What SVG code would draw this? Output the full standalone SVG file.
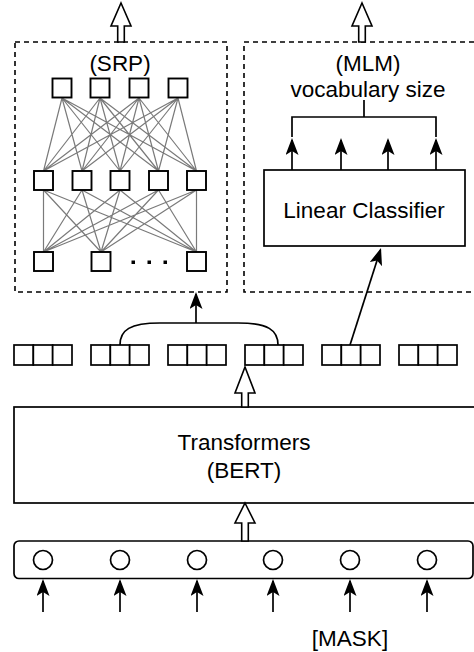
<svg xmlns="http://www.w3.org/2000/svg" width="474" height="652" viewBox="0 0 474 652">
<defs>
<marker id="ah" viewBox="0 0 17 13" refX="15" refY="6.5" markerWidth="17" markerHeight="13" markerUnits="userSpaceOnUse" orient="auto">
<path d="M0,0 L17,6.5 L0,13 L4,6.5 Z" fill="#000"/>
</marker>
</defs>
<style>
.t{font-family:"Liberation Sans",Arial,sans-serif;font-size:22.5px;fill:#000;text-anchor:middle}
.box{fill:#fff;stroke:#000;stroke-width:1.7}
.dash{fill:none;stroke:#000;stroke-width:1.6;stroke-dasharray:5 4}
.sq{fill:#fff;stroke:#000;stroke-width:1.9}
.net{stroke:#7a7a7a;stroke-width:1.2;fill:none}
.ln{stroke:#000;stroke-width:1.7;fill:none}
.arr{stroke:#000;stroke-width:1.7;fill:none;marker-end:url(#ah)}
.hollow{fill:#fff;stroke:#000;stroke-width:1.6}
</style>

<g id="srp">
<rect class="dash" x="15" y="42" width="212" height="250"/>
<text class="t" x="120" y="71">(SRP)</text>
<g class="net">
<path d="M62,98 L43.5,171 M62,98 L82,171 M62,98 L120,171 M62,98 L158.5,171 M62,98 L196.5,171
M100,98 L43.5,171 M100,98 L82,171 M100,98 L120,171 M100,98 L158.5,171 M100,98 L196.5,171
M139,98 L43.5,171 M139,98 L82,171 M139,98 L120,171 M139,98 L158.5,171 M139,98 L196.5,171
M178,98 L43.5,171 M178,98 L82,171 M178,98 L120,171 M178,98 L158.5,171 M178,98 L196.5,171"/>
<path d="M43.5,190 L43.5,252 M43.5,190 L101,252 M43.5,190 L196.5,252
M82,190 L43.5,252 M82,190 L101,252 M82,190 L196.5,252
M120,190 L43.5,252 M120,190 L101,252 M120,190 L196.5,252
M158.5,190 L43.5,252 M158.5,190 L101,252 M158.5,190 L196.5,252
M196.5,190 L43.5,252 M196.5,190 L101,252 M196.5,190 L196.5,252"/>
</g>
<rect class="sq" x="52.5" y="78.5" width="19" height="19"/>
<rect class="sq" x="90.5" y="78.5" width="19" height="19"/>
<rect class="sq" x="129.5" y="78.5" width="19" height="19"/>
<rect class="sq" x="168.5" y="78.5" width="19" height="19"/>
<rect class="sq" x="34" y="171" width="19" height="19"/>
<rect class="sq" x="72.5" y="171" width="19" height="19"/>
<rect class="sq" x="110.5" y="171" width="19" height="19"/>
<rect class="sq" x="149" y="171" width="19" height="19"/>
<rect class="sq" x="187" y="171" width="19" height="19"/>
<rect class="sq" x="34" y="252" width="19" height="19"/>
<rect class="sq" x="91.5" y="252" width="19" height="19"/>
<rect class="sq" x="187" y="252" width="19" height="19"/>
<rect x="131.5" y="260.5" width="3.5" height="3.5" fill="#000"/>
<rect x="147.5" y="260.5" width="3.5" height="3.5" fill="#000"/>
<rect x="163.5" y="260.5" width="3.5" height="3.5" fill="#000"/>
</g>

<g id="mlm">
<rect class="dash" x="244" y="42" width="236" height="250"/>
<text class="t" x="368" y="71">(MLM)</text>
<text class="t" x="368" y="97">vocabulary size</text>
<rect class="box" x="264" y="170" width="201" height="76"/>
<text class="t" x="364" y="218">Linear Classifier</text>
</g>

<g id="tokens">
<g class="box">
<rect x="14" y="345" width="19.33" height="20"/><rect x="33.33" y="345" width="19.33" height="20"/><rect x="52.67" y="345" width="19.33" height="20"/>
<rect x="91" y="345" width="19.33" height="20"/><rect x="110.33" y="345" width="19.33" height="20"/><rect x="129.67" y="345" width="19.33" height="20"/>
<rect x="168" y="345" width="19.33" height="20"/><rect x="187.33" y="345" width="19.33" height="20"/><rect x="206.67" y="345" width="19.33" height="20"/>
<rect x="245" y="345" width="19.33" height="20"/><rect x="264.33" y="345" width="19.33" height="20"/><rect x="283.67" y="345" width="19.33" height="20"/>
<rect x="322" y="345" width="19.33" height="20"/><rect x="341.33" y="345" width="19.33" height="20"/><rect x="360.67" y="345" width="19.33" height="20"/>
<rect x="399" y="345" width="19.33" height="20"/><rect x="418.33" y="345" width="19.33" height="20"/><rect x="437.67" y="345" width="19.33" height="20"/>
</g>
</g>

<g id="transformers">
<rect class="box" x="14" y="407" width="472" height="96"/>
<text class="t" x="244" y="450">Transformers</text>
<text class="t" x="244" y="478">(BERT)</text>
</g>

<g id="input">
<rect class="box" x="14" y="541" width="459" height="37.5" rx="5"/>
<g class="box">
<circle cx="43" cy="560" r="9.5"/>
<circle cx="120" cy="560" r="9.5"/>
<circle cx="197" cy="560" r="9.5"/>
<circle cx="273" cy="560" r="9.5"/>
<circle cx="350" cy="560" r="9.5"/>
<circle cx="427" cy="560" r="9.5"/>
</g>
<text class="t" x="350" y="646">[MASK]</text>
</g>

<g id="connectors">
<path class="hollow" d="M121,3 L131,26 L124.3,26 L124.3,42 L117.7,42 L117.7,26 L111,26 Z"/>
<path class="hollow" d="M362,3 L372,26 L365.3,26 L365.3,42 L358.7,42 L358.7,26 L352,26 Z"/>
<path class="hollow" d="M245,367 L255,393 L248.3,393 L248.3,407 L241.7,407 L241.7,393 L235,393 Z"/>
<path class="hollow" d="M245,503 L255,523 L248.3,523 L248.3,541 L241.7,541 L241.7,523 L235,523 Z"/>
<path class="ln" d="M364,100 V117 M292,137 V117 H436 V137"/>
<line class="arr" x1="292" y1="170" x2="292" y2="140"/>
<line class="arr" x1="341" y1="170" x2="341" y2="140"/>
<line class="arr" x1="388" y1="170" x2="388" y2="140"/>
<line class="arr" x1="436" y1="170" x2="436" y2="140"/>
<path class="ln" d="M120,345 C120,330 130,323 160,323 H238 C268,323 278,330 278,345"/>
<line class="arr" x1="196" y1="323" x2="196" y2="294"/>
<line class="arr" x1="350" y1="345" x2="380.4" y2="249.9"/>
<line class="arr" x1="43" y1="612" x2="43" y2="581"/>
<line class="arr" x1="120" y1="612" x2="120" y2="581"/>
<line class="arr" x1="197" y1="612" x2="197" y2="581"/>
<line class="arr" x1="273" y1="612" x2="273" y2="581"/>
<line class="arr" x1="350" y1="612" x2="350" y2="581"/>
<line class="arr" x1="427" y1="612" x2="427" y2="581"/>
</g>
</svg>
